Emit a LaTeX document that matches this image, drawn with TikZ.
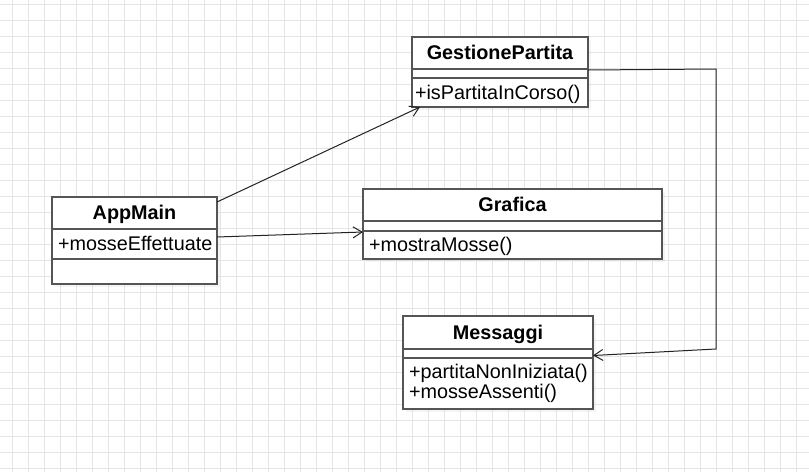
\documentclass[tikz,border=0pt]{standalone}
\usepackage{fontspec}
\newfontfamily\umlfont{Liberation Sans}
\usetikzlibrary{positioning,arrows.meta,shadows}
\definecolor{gridgray}{RGB}{229,229,229}
\definecolor{boxgray}{RGB}{85,85,85}
\definecolor{linkgray}{RGB}{35,35,35}
\tikzset{
  umlpart/.style={draw=boxgray, line width=1.3pt, fill=white, outer sep=0pt, inner ysep=0pt,
    text height=13.8pt, text depth=0pt, font=\umlfont\fontsize{19.8}{17.2}\selectfont,
    drop shadow={shadow xshift=3pt, shadow yshift=-3pt, opacity=0.08}},
  umlhead/.style 2 args={umlpart, font=\umlfont\bfseries\fontsize{19.8}{17.2}\selectfont,
    minimum width=#1, minimum height=#2, anchor=north west},
  umlrow/.style 2 args={umlpart, align=left, inner xsep=6pt, text width=#1, minimum height=#2},
  assoc/.style={draw=linkgray, line width=1pt, -{Straight Barb[length=9pt,width=11pt]}},
}
\begin{document}
\begin{tikzpicture}[x=1pt, y=-1pt]
  \useasboundingbox (0,0) rectangle (809,472);
  % grid
  \foreach \x in {12.7,28.7,...,809} {\draw[gridgray, line width=1pt] (\x,0) -- (\x,472);}
  \foreach \y in {4.7,20.7,...,472} {\draw[gridgray, line width=1pt] (0,\y) -- (809,\y);}

  % AppMain
  \node[umlhead={165pt}{32pt}] (apphead) at (52,197) {AppMain};
  \node[umlrow={153pt}{30pt}, below=0pt of apphead] (appattr) {+mosseEffettuate};
  \node[umlrow={153pt}{25pt}, below=0pt of appattr, text height=0pt] (appmeth) {};

  % GestionePartita
  \node[umlhead={176pt}{32pt}] (gphead) at (412,37) {GestionePartita};
  \node[umlrow={170pt}{9pt}, below=0pt of gphead, inner xsep=3pt, text height=0pt] (gpattr) {};
  \node[umlrow={170pt}{29pt}, below=0pt of gpattr, inner xsep=3pt] (gpmeth) {+isPartitaInCorso()};

  % Grafica
  \node[umlhead={299pt}{32pt}] (grafhead) at (363,189) {Grafica};
  \node[umlrow={287pt}{10pt}, below=0pt of grafhead, text height=0pt] (grafattr) {};
  \node[umlrow={287pt}{28pt}, below=0pt of grafattr] (grafmeth) {+mostraMosse()};

  % Messaggi
  \node[umlhead={190pt}{33pt}] (msghead) at (403,316) {Messaggi};
  \node[umlrow={178pt}{9pt}, below=0pt of msghead, text height=0pt] (msgattr) {};
  \node[umlrow={178pt}{51pt}, below=0pt of msgattr, text height=, text depth=] (msgmeth)
    {+partitaNonIniziata()\\+mosseAssenti()};

  % associations
  \draw[assoc] ([yshift=-5pt]apphead.north east) -- ([xshift=8pt]gpmeth.south west);
  \draw[assoc] ([yshift=7pt]appattr.east) -- ([yshift=-1pt]grafmeth.north west);
  \coordinate (turnne) at (716,69);
  \coordinate (turnse) at (716,349);
  \draw[assoc] ([yshift=-1pt]gpattr.north east) -- (turnne) -- (turnse) -- ([yshift=-2pt]msgattr.east);
\end{tikzpicture}
\end{document}
